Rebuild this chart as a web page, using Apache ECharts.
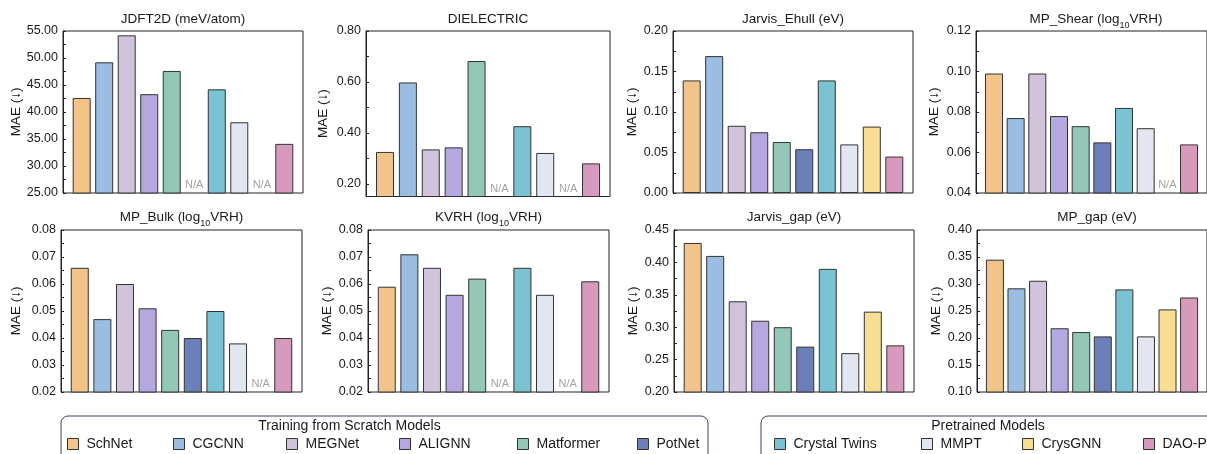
<!DOCTYPE html>
<html><head><meta charset="utf-8">
<script src="https://cdn.jsdelivr.net/npm/echarts@6/dist/echarts.min.js"></script>
<style>html,body{margin:0;padding:0;background:#fff}#c{width:1207px;height:454px}</style>
</head><body><div id="c"></div>
<script>
// ---------- data ----------
const models = ['SchNet','CGCNN','MEGNet','ALIGNN','Matformer','PotNet','Crystal Twins','MMPT','CrysGNN','DAO-Pretrain'];
const scratchModels = ['SchNet','CGCNN','MEGNet','ALIGNN','Matformer','PotNet'];
const pretrainedModels = ['Crystal Twins','MMPT','CrysGNN','DAO-Pretrain'];
const modelColors = ['#F3C48A','#9BBDE2','#D2C3DD','#B5A8E0','#93C7B8','#6C7FB8','#7BC3D3','#E2E6F0','#F7DE92','#D89ABC'];

const jdft2d      = [42.6, 49.2, 54.2, 43.3, 47.6, null, 44.2, 38.1, null, 34.1];
const dielectric  = [0.325, 0.598, 0.335, 0.343, 0.682, null, 0.426, 0.321, null, 0.280];
const jarvisEhull = [0.139, 0.169, 0.083, 0.075, 0.063, 0.054, 0.139, 0.060, 0.082, 0.045];
const mpShear     = [0.099, 0.077, 0.099, 0.078, 0.073, 0.065, 0.082, 0.072, null, 0.064];
const mpBulk      = [0.066, 0.047, 0.060, 0.051, 0.043, 0.040, 0.050, 0.038, null, 0.040];
const kvrh        = [0.059, 0.071, 0.066, 0.056, 0.062, null, 0.066, 0.056, null, 0.061];
const jarvisGap   = [0.430, 0.410, 0.340, 0.310, 0.300, 0.270, 0.390, 0.260, 0.324, 0.272];
const mpGap       = [0.345, 0.292, 0.306, 0.218, 0.211, 0.203, 0.290, 0.203, 0.253, 0.275];

const jdftTicks   = [25, 30, 35, 40, 45, 50, 55];
const dielTicks   = [0.2, 0.4, 0.6, 0.8];
const ehullTicks  = [0.00, 0.05, 0.10, 0.15, 0.20];
const shearTicks  = [0.04, 0.06, 0.08, 0.10, 0.12];
const bulkTicks   = [0.02, 0.03, 0.04, 0.05, 0.06, 0.07, 0.08];
const kvrhTicks   = [0.02, 0.03, 0.04, 0.05, 0.06, 0.07, 0.08];
const jgapTicks   = [0.20, 0.25, 0.30, 0.35, 0.40, 0.45];
const mgapTicks   = [0.10, 0.15, 0.20, 0.25, 0.30, 0.35, 0.40];

const titles = [
  '{t|JDFT2D (meV/atom)}', '{t|DIELECTRIC}', '{t|Jarvis_Ehull (eV)}', '{t|MP_Shear (log}{s|10}{t|VRH)}',
  '{t|MP_Bulk (log}{s|10}{t|VRH)}', '{t|KVRH (log}{s|10}{t|VRH)}', '{t|Jarvis_gap (eV)}', '{t|MP_gap (eV)}'
];
const yName = 'MAE (\u2193)';

// ---------- layout ----------
const FONT = 'Liberation Sans, Arial, Helvetica, sans-serif';
const panels = [
  {data: jdft2d,      ticks: jdftTicks,  min: 25,   max: 55,   left: 63,  top: 31,  width: 240, height: 162, gap: 40},
  {data: dielectric,  ticks: dielTicks,  min: 0.15, max: 0.8,  left: 366, top: 31,  width: 244, height: 165.5, gap: 36},
  {data: jarvisEhull, ticks: ehullTicks, min: 0,    max: 0.2,  left: 673, top: 31,  width: 240, height: 162, gap: 33},
  {data: mpShear,     ticks: shearTicks, min: 0.04, max: 0.12, left: 976, top: 31,  width: 240, height: 162, gap: 35},
  {data: mpBulk,      ticks: bulkTicks,  min: 0.02, max: 0.08, left: 61,  top: 230, width: 241, height: 162, gap: 38},
  {data: kvrh,        ticks: kvrhTicks,  min: 0.02, max: 0.08, left: 368, top: 230, width: 241, height: 162, gap: 34},
  {data: jarvisGap,   ticks: jgapTicks,  min: 0.2,  max: 0.45, left: 674, top: 230, width: 240, height: 162, gap: 33},
  {data: mpGap,       ticks: mgapTicks,  min: 0.1,  max: 0.4,  left: 977, top: 230, width: 240, height: 162, gap: 34}
];

const r6 = v => Math.round(v * 1e6) / 1e6;
const grid = [], xAxis = [], yAxis = [], title = [], series = [];
panels.forEach((p, k) => {
  grid.push({left: p.left, top: p.top, width: p.width, height: p.height, show: true,
             borderColor: '#222', borderWidth: 1, backgroundColor: '#fff', containLabel: false});
  xAxis.push({type: 'value', gridIndex: k, min: -0.83, max: 9.83, show: false});
  const minor = [];
  for (let i = 0; i < p.ticks.length; i++) {
    minor.push(p.ticks[i]);
    if (i < p.ticks.length - 1) minor.push(r6((p.ticks[i] + p.ticks[i + 1]) / 2));
  }
  yAxis.push({
    type: 'value', gridIndex: k, min: p.min, max: p.max,
    name: yName, nameLocation: 'middle', nameGap: p.gap,
    nameTextStyle: {fontFamily: FONT, fontSize: 13.5, color: '#1a1a1a'},
    axisLine: {show: true, onZero: false, lineStyle: {color: '#222', width: 1}},
    axisTick: {show: true, inside: true, length: 3, lineStyle: {color: '#222'}, customValues: minor},
    axisLabel: {fontFamily: FONT, fontSize: 12.5, color: '#1a1a1a', margin: 5,
                customValues: p.ticks, formatter: v => Number(v).toFixed(2)},
    splitLine: {show: false}
  });
  title.push({
    text: titles[k], left: p.left + p.width / 2, top: k < 4 ? 12 : 210, textAlign: 'center', padding: 0,
    textStyle: {fontFamily: FONT, fontWeight: 'normal', color: '#1a1a1a',
      rich: {t: {fontFamily: FONT, fontWeight: 'normal', fontSize: 13.5, lineHeight: 16, verticalAlign: 'top', color: '#1a1a1a'},
             s: {fontFamily: FONT, fontWeight: 'normal', fontSize: 9, lineHeight: 9, padding: [9, 0, 0, 0], verticalAlign: 'top', color: '#1a1a1a'}}}
  });
  models.forEach((m, i) => {
    const v = p.data[i];
    series.push({
      type: 'bar', name: m, xAxisIndex: k, yAxisIndex: k, barWidth: 18, barGap: '-100%',
      data: v == null ? [] : [[i, v]],
      itemStyle: {color: modelColors[i], borderColor: '#333', borderWidth: 1},
      emphasis: {disabled: true}, clip: true
    });
  });
  const na = [];
  p.data.forEach((v, i) => { if (v == null) na.push([i, p.min]); });
  series.push({
    type: 'scatter', name: 'N/A', xAxisIndex: k, yAxisIndex: k, symbolSize: 1, clip: false, silent: true,
    itemStyle: {color: 'transparent'},
    label: {show: true, position: 'top', distance: 2, formatter: 'N/A', color: '#8a8a8a', fontFamily: FONT, fontSize: 11},
    data: na
  });
});

// legends: one component per item for exact placement
const legendX = {'SchNet': 67, 'CGCNN': 173, 'MEGNet': 286, 'ALIGNN': 399, 'Matformer': 517, 'PotNet': 637,
                 'Crystal Twins': 774, 'MMPT': 921, 'CrysGNN': 1022, 'DAO-Pretrain': 1143};
const legend = models.map(m => ({
  data: [m], left: legendX[m], top: 437, padding: 0, icon: 'rect', itemWidth: 11, itemHeight: 11,
  itemStyle: {borderColor: '#333', borderWidth: 1},
  textStyle: {fontFamily: FONT, fontSize: 14, color: '#1a1a1a', padding: [0, 0, 0, 3]}
}));

const graphic = [
  {type: 'rect', shape: {x: 61, y: 416, width: 647, height: 70, r: 7}, style: {fill: 'none', stroke: '#34435f', lineWidth: 1}},
  {type: 'rect', shape: {x: 761, y: 416, width: 700, height: 70, r: 7}, style: {fill: 'none', stroke: '#34435f', lineWidth: 1}},
  {type: 'text', x: 349.5, y: 426, style: {text: 'Training from Scratch Models', fontFamily: FONT, fontSize: 14, fill: '#1a1a1a', align: 'center', verticalAlign: 'middle'}},
  {type: 'text', x: 988, y: 426, style: {text: 'Pretrained Models', fontFamily: FONT, fontSize: 14, fill: '#1a1a1a', align: 'center', verticalAlign: 'middle'}}
];

const chart = echarts.init(document.getElementById('c'), null, {renderer: 'canvas'});
chart.setOption({
  animation: false, backgroundColor: '#fff',
  grid, xAxis, yAxis, title, series, legend, graphic
});
</script></body></html>
